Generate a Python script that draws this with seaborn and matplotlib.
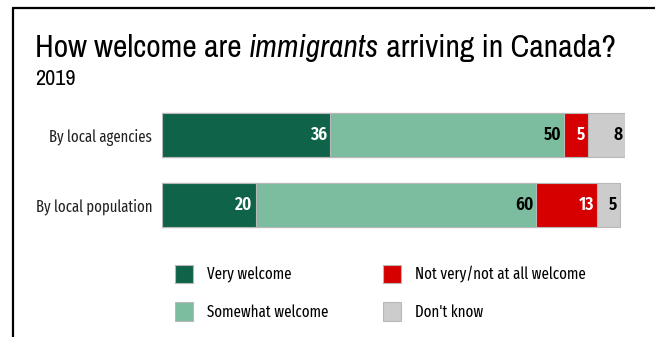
import matplotlib
matplotlib.use("Agg")
import matplotlib.pyplot as plt
from matplotlib.patches import Patch
from matplotlib.lines import Line2D
import seaborn as sns
import pandas as pd
import numpy as np

# Survey data
groups = ["By local agencies", "By local population"]
categories = ["Very welcome", "Somewhat welcome", "Not very/not at all welcome", "Don't know"]
very = [36, 20]
somewhat = [50, 60]
not_welcome = [5, 13]
dont_know = [8, 5]

colors = ["#0f6348", "#7bbd9e", "#d60000", "#cccccc"]
label_colors = ["white", "black", "white", "black"]

sns.set_theme(style="white")
title_font = ["Archivo Narrow", "DejaVu Sans"]
body_font = ["Fira Sans Extra Condensed", "DejaVu Sans"]
num_font = ["Fira Sans Condensed", "DejaVu Sans"]
plt.rcParams["font.family"] = body_font
plt.rcParams["text.color"] = "black"

W, H = 655, 337
fig = plt.figure(figsize=(W / 100, H / 100), dpi=100)
ax = fig.add_axes([162 / W, 1 - 240 / H, 463 / W, 140 / H])

series = [very, somewhat, not_welcome, dont_know]
cum = np.cumsum(np.array(series), axis=0)

# Stacked bars: draw cumulative totals from the widest down
for i in range(len(series) - 1, -1, -1):
    df = pd.DataFrame({"group": groups, "value": cum[i]})
    sns.barplot(data=df, x="value", y="group", orient="h", color=colors[i],
                width=0.63, edgecolor="#b8b8b8", linewidth=0.8,
                saturation=1, ax=ax)

# Value labels at the right end of each segment
for i, vals in enumerate(series):
    for j, v in enumerate(vals):
        ax.text(cum[i][j] - 0.6, j, f"{v}", ha="right", va="center",
                color=label_colors[i], fontsize=12.5, fontweight="semibold",
                family=num_font)

ax.set_xlim(0, 99)
ax.set_ylim(1.5, -0.5)
ax.set_xlabel("")
ax.set_ylabel("")
ax.set_xticks([])
ax.tick_params(axis="y", length=0, pad=7, labelsize=11.5, labelcolor="#222222")
for lab in ax.get_yticklabels():
    lab.set_family(body_font)
for s in ax.spines.values():
    s.set_visible(False)

# Title with italic word, laid out piece by piece
fig.canvas.draw()
renderer = fig.canvas.get_renderer()
parts = [("How welcome are ", "normal"), ("immigrants", "italic"),
         (" arriving in Canada?", "normal")]
xpos = 35
for part, style in parts:
    t = fig.text(xpos / W, 1 - 48 / H, part, fontsize=22.8, va="center",
                 style=style, family=title_font)
    xpos += t.get_window_extent(renderer=renderer).width
fig.text(35 / W, 1 - 79 / H, "2019", fontsize=16, va="center", family=title_font)

# Legend
handles = [Patch(facecolor=c, edgecolor="#b8b8b8", linewidth=0.8) for c in colors]
fig.legend(handles, categories, ncol=2, loc="upper left",
           bbox_to_anchor=(160 / W, 1 - 250 / H), frameon=False,
           handlelength=1.13, handleheight=1.4,
           handletextpad=0.85, columnspacing=3.35, labelspacing=1.15,
           prop={"family": body_font, "size": 11.7})

# Frame lines
fig.add_artist(Line2D([13 / W, 13 / W], [0, 1 - 8 / H], color="black",
                      lw=1.6, transform=fig.transFigure))
fig.add_artist(Line2D([13 / W, 1], [1 - 8 / H, 1 - 8 / H], color="black",
                      lw=1.6, transform=fig.transFigure))

fig.savefig("out.png", dpi=100, facecolor="white")
